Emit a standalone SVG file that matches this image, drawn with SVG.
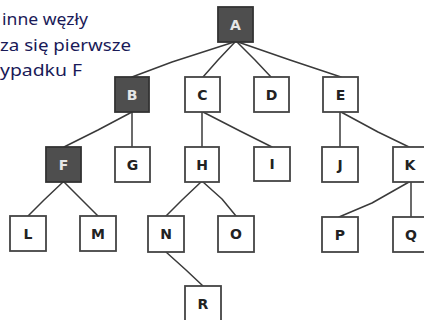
<svg xmlns="http://www.w3.org/2000/svg" width="424" height="320" viewBox="0 0 424 320">
  <style>
    .bg { fill: #ffffff; }
    .note { font-family: "Noto Sans", "Open Sans", sans-serif; font-size: 16px; fill: #1a1a58; }
    .box { fill: #ffffff; stroke: #444444; stroke-width: 1.8; }
    .box-dark { fill: #4e4e4e; stroke: #333333; stroke-width: 1.8; }
    .lbl { font-family: "DejaVu Sans", "Liberation Sans", sans-serif; font-size: 14px; font-weight: bold; fill: #222222; text-anchor: middle; dominant-baseline: central; }
    .lbl-dark { fill: #e6e6e6; }
    .edge { fill: none; stroke: #3a3a3a; stroke-width: 1.5; stroke-linecap: round; stroke-linejoin: round; }
  </style>

  <rect class="bg" x="0" y="0" width="424" height="320"/>

  <!-- caption, partly cut off at the left edge -->
  <g id="caption">
    <text class="note" x="2" y="25" textLength="86" lengthAdjust="spacingAndGlyphs">inne węzły</text>
    <text class="note" x="0" y="51" textLength="131" lengthAdjust="spacingAndGlyphs">za się pierwsze</text>
    <text class="note" x="0" y="76" textLength="82" lengthAdjust="spacingAndGlyphs">ypadku F</text>
  </g>

  <!-- tree edges: parent bottom-centre to child top-centre -->
  <g id="connectors">
    <path class="edge" d="M234 42 L172 62 L132 77"/>
    <path class="edge" d="M235 42 L218 60 L203 77"/>
    <path class="edge" d="M237 42 L255 60 L271 77"/>
    <path class="edge" d="M238 42 L290 60 L341 77"/>
    <path class="edge" d="M132 112 L98 130 L64 147"/>
    <path class="edge" d="M132 112 L132 147"/>
    <path class="edge" d="M202 112 L202 147"/>
    <path class="edge" d="M203 112 L240 131 L272 147"/>
    <path class="edge" d="M340 112 L340 147"/>
    <path class="edge" d="M341 112 L378 132 L409 147"/>
    <path class="edge" d="M63 182 L44 200 L28 216"/>
    <path class="edge" d="M64 182 L82 200 L98 216"/>
    <path class="edge" d="M201 182 L182 200 L166 216"/>
    <path class="edge" d="M203 182 L222 199 L236 216"/>
    <path class="edge" d="M166 252 L186 270 L203 286"/>
    <path class="edge" d="M409 182 L372 203 L339 217"/>
    <path class="edge" d="M411 182 L411 217"/>
  </g>

  <g id="node-A">
    <rect class="box-dark" x="218" y="7" width="35" height="35"/>
    <text class="lbl lbl-dark" x="235.5" y="25">A</text>
  </g>
  <g id="node-B">
    <rect class="box-dark" x="115" y="77" width="34" height="35"/>
    <text class="lbl lbl-dark" x="132" y="95">B</text>
  </g>
  <g id="node-C">
    <rect class="box" x="185" y="77" width="35" height="35"/>
    <text class="lbl" x="202.5" y="95">C</text>
  </g>
  <g id="node-D">
    <rect class="box" x="254" y="77" width="35" height="35"/>
    <text class="lbl" x="271.5" y="95">D</text>
  </g>
  <g id="node-E">
    <rect class="box" x="323" y="77" width="35" height="35"/>
    <text class="lbl" x="340.5" y="95">E</text>
  </g>
  <g id="node-F">
    <rect class="box-dark" x="46" y="147" width="35" height="35"/>
    <text class="lbl lbl-dark" x="63.5" y="165">F</text>
  </g>
  <g id="node-G">
    <rect class="box" x="115" y="147" width="35" height="35"/>
    <text class="lbl" x="132.5" y="165">G</text>
  </g>
  <g id="node-H">
    <rect class="box" x="185" y="147" width="34" height="35"/>
    <text class="lbl" x="202" y="165">H</text>
  </g>
  <g id="node-I">
    <rect class="box" x="254" y="147" width="36" height="34"/>
    <text class="lbl" x="272" y="164">I</text>
  </g>
  <g id="node-J">
    <rect class="box" x="322" y="147" width="36" height="35"/>
    <text class="lbl" x="340" y="165">J</text>
  </g>
  <g id="node-K">
    <rect class="box" x="393" y="147" width="36" height="35"/>
    <text class="lbl" x="410" y="165">K</text>
  </g>
  <g id="node-L">
    <rect class="box" x="10" y="216" width="36" height="35"/>
    <text class="lbl" x="28" y="234">L</text>
  </g>
  <g id="node-M">
    <rect class="box" x="80" y="216" width="36" height="35"/>
    <text class="lbl" x="98" y="234">M</text>
  </g>
  <g id="node-N">
    <rect class="box" x="148" y="216" width="36" height="36"/>
    <text class="lbl" x="166" y="234">N</text>
  </g>
  <g id="node-O">
    <rect class="box" x="218" y="216" width="36" height="36"/>
    <text class="lbl" x="236" y="234">O</text>
  </g>
  <g id="node-P">
    <rect class="box" x="322" y="217" width="36" height="35"/>
    <text class="lbl" x="340" y="235">P</text>
  </g>
  <g id="node-Q">
    <rect class="box" x="393" y="217" width="36" height="35"/>
    <text class="lbl" x="411" y="235">Q</text>
  </g>
  <g id="node-R">
    <rect class="box" x="185" y="286" width="36" height="35"/>
    <text class="lbl" x="203" y="304">R</text>
  </g>
</svg>
